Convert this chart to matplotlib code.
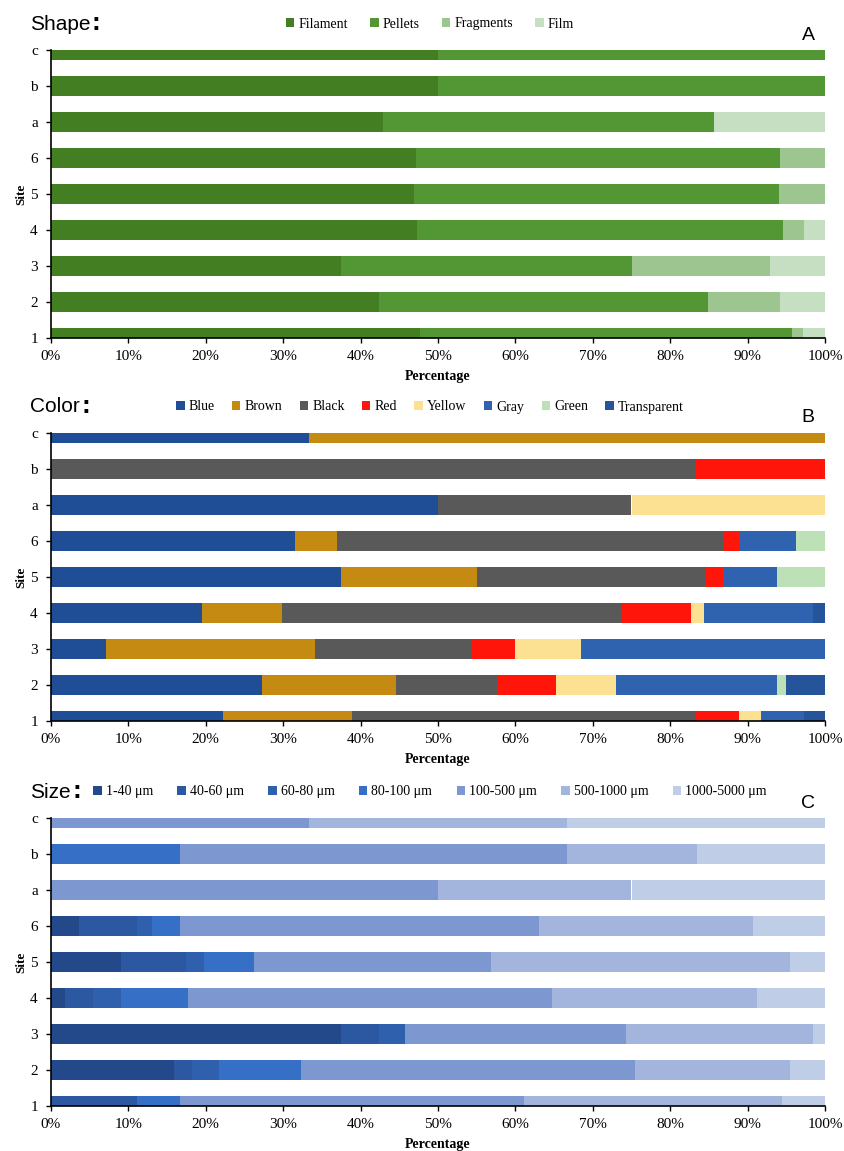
import numpy as np
import matplotlib
matplotlib.use("Agg")
import matplotlib.pyplot as plt
from matplotlib.patches import Patch

#---------- data (bottom to top) -------------------------------------

sites = ['1', '2', '3', '4', '5', '6', 'a', 'b', 'c']

shape_names = ['Filament', 'Pellets', 'Fragments', 'Film']
filament = [47.7, 42.4, 37.5, 47.3, 46.9, 47.1, 42.9, 50.0, 50.0]
pellets = [48.1, 42.5, 37.5, 47.3, 47.1, 47.1, 42.8, 50.0, 50.0]
fragments = [1.4, 9.3, 17.9, 2.7, 6.0, 5.8, 0.0, 0.0, 0.0]
film = [2.8, 5.8, 7.1, 2.7, 0.0, 0.0, 14.3, 0.0, 0.0]

color_names = ['Blue', 'Brown', 'Black', 'Red', 'Yellow', 'Gray', 'Green', 'Transparent']
blue = [22.2, 27.2, 7.1, 19.5, 37.5, 31.5, 50.0, 0.0, 33.3]
brown = [16.7, 17.4, 27.0, 10.3, 17.6, 5.5, 0.0, 0.0, 66.7]
black = [44.4, 13.0, 20.2, 44.0, 29.5, 50.0, 25.0, 83.3, 0.0]
red = [5.6, 7.6, 5.6, 8.9, 2.2, 1.9, 0.0, 16.7, 0.0]
yellow = [2.8, 7.8, 8.6, 1.7, 0.0, 0.0, 25.0, 0.0, 0.0]
gray = [5.6, 20.8, 31.5, 14.0, 7.0, 7.4, 0.0, 0.0, 0.0]
green = [0.0, 1.1, 0.0, 0.0, 6.2, 3.7, 0.0, 0.0, 0.0]
transparent = [2.7, 5.1, 0.0, 1.6, 0.0, 0.0, 0.0, 0.0, 0.0]

size_names = ['1-40 \u03bcm', '40-60 \u03bcm', '60-80 \u03bcm', '80-100 \u03bcm',
              '100-500 \u03bcm', '500-1000 \u03bcm', '1000-5000 \u03bcm']
s_1_40 = [0.0, 15.9, 37.5, 1.8, 9.1, 3.6, 0.0, 0.0, 0.0]
s_40_60 = [11.1, 2.3, 4.9, 3.6, 8.4, 7.5, 0.0, 0.0, 0.0]
s_60_80 = [0.0, 3.5, 3.3, 3.6, 2.3, 1.9, 0.0, 0.0, 0.0]
s_80_100 = [5.6, 10.6, 0.0, 8.7, 6.4, 3.7, 0.0, 16.7, 0.0]
s_100_500 = [44.4, 43.2, 28.6, 47.0, 30.7, 46.3, 50.0, 50.0, 33.3]
s_500_1000 = [33.3, 20.0, 24.2, 26.5, 38.6, 27.7, 25.0, 16.7, 33.4]
s_1000_5000 = [5.6, 4.5, 1.5, 8.8, 4.5, 9.3, 25.0, 16.6, 33.3]

shape_cols = ['#437e22', '#539634', '#9dc58f', '#c6dec1']
color_cols = ['#1f4e96', '#c48a12', '#595959', '#ff1509', '#fde193', '#2f63af', '#bee0b7', '#26549b']
size_cols = ['#24498a', '#2b58a0', '#2e60ae', '#3570c6', '#7d97d1', '#a3b5dd', '#bfcde7']

serif = 'Liberation Serif'
sans = 'Liberation Sans'

#---------- figure ----------------------------------------------------

W, H = 845.0, 1151.0
fig = plt.figure(figsize=(8.45, 11.51), dpi=100)


def panel(top_px, bot_px, series, names, cols, title, letter, leg_x, colsp):
    ax = fig.add_axes([51 / W, 1 - bot_px / H, 774 / W, (bot_px - top_px) / H])
    y = np.arange(len(sites))
    left = np.zeros(len(sites))
    for vals, c in zip(series, cols):
        ax.barh(y, vals, left=left, height=0.58, color=c, edgecolor='none')
        left += np.array(vals)
    ax.set_xlim(0, 100)
    ax.set_ylim(0, len(sites) - 1)
    ax.set_yticks(y)
    ax.set_yticklabels(sites, fontfamily=serif, fontsize=11)
    ax.set_xticks(np.arange(0, 101, 10))
    ax.set_xticklabels(['%d%%' % v for v in range(0, 101, 10)], fontfamily=serif, fontsize=11)
    ax.tick_params(axis='both', direction='out', length=3.5, width=1)
    ax.tick_params(axis='x', pad=5)
    ax.tick_params(axis='y', pad=6)
    for s in ['top', 'right']:
        ax.spines[s].set_visible(False)
    ax.spines['left'].set_linewidth(1.2)
    ax.spines['bottom'].set_linewidth(1.2)
    ax.set_ylabel('Site', fontfamily=serif, fontsize=9.5, fontweight='bold', labelpad=2)
    ax.set_xlabel('Percentage', fontfamily=serif, fontsize=10, fontweight='bold', labelpad=5)

    # panel title, colon drawn bold and larger after the word
    t = fig.text(30 / W, 1 - (top_px - 26) / H, title, fontfamily=sans, fontsize=15,
                 va='center', ha='left')
    ax.annotate(':', xy=(1, 0), xycoords=t, xytext=(1, -1), textcoords='offset points',
                fontfamily=sans, fontsize=19, fontweight='bold', va='bottom', ha='left')
    fig.text(808 / W, 1 - (top_px - 15) / H, letter, fontfamily=sans, fontsize=14,
             va='center', ha='center')

    handles = [Patch(facecolor=c, edgecolor='none') for c in cols]
    fig.legend(handles, names, loc='center', bbox_to_anchor=(leg_x / W, 1 - (top_px - 26) / H),
               ncol=len(names), frameon=False, handlelength=0.6, handleheight=0.6,
               handletextpad=0.3, columnspacing=colsp,
               prop={'family': serif, 'size': 10})
    return ax


panel(50, 338, [filament, pellets, fragments, film], shape_names, shape_cols,
      'Shape', 'A', 430, 1.6)
panel(433, 721, [blue, brown, black, red, yellow, gray, green, transparent],
      color_names, color_cols, 'Color', 'B', 430, 1.25)
panel(818, 1106, [s_1_40, s_40_60, s_60_80, s_80_100, s_100_500, s_500_1000, s_1000_5000],
      size_names, size_cols, 'Size', 'C', 430, 1.75)

plt.savefig('out.png', dpi=100)
